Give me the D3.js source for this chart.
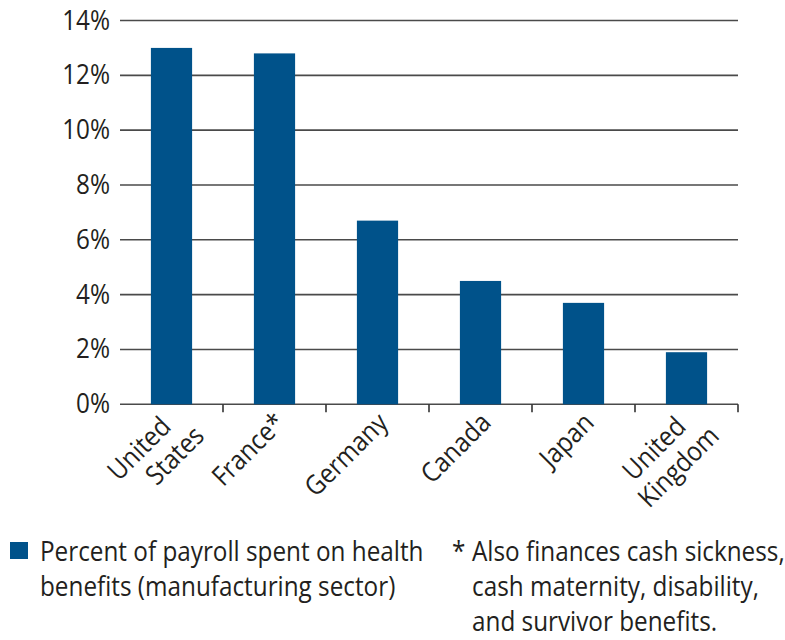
<!DOCTYPE html>
<html>
<head>
<meta charset="utf-8">
<script src="https://cdn.jsdelivr.net/npm/d3@7"></script>
<style>
  html, body { margin: 0; padding: 0; background: #fff; }
  svg { display: block; }
  text { font-family: "Open Sans", sans-serif; fill: #231f20; }
</style>
</head>
<body>
<svg id="chart" width="785" height="640"></svg>
<script>
// ---- data ----
const categories = ["United States", "France*", "Germany", "Canada", "Japan", "United Kingdom"];
const categoryLines = [["United", "States"], ["France*"], ["Germany"], ["Canada"], ["Japan"], ["United", "Kingdom"]];
const values = [13.0, 12.8, 6.7, 4.5, 3.7, 1.9];
const yTicks = [0, 2, 4, 6, 8, 10, 12, 14];
const legendLines = ["Percent of payroll spent on health", "benefits (manufacturing sector)"];
const footnoteLines = ["Also finances cash sickness,", "cash maternity, disability,", "and survivor benefits."];

(function () {
// ---- layout ----
const svg = d3.select("#chart");
const pL = 120, pR = 738, pT = 20.5, pB = 404.3;
const barColor = "#00528a";
const fs = 27;
const sx = 0.9; // horizontal condensing to mimic a narrow humanist face

const x = d3.scaleBand().domain(categories).range([pL, pR]).paddingInner(0.6).paddingOuter(0.3);
const y = d3.scaleLinear().domain([0, 14]).range([pB, pT]);

function label(parent, tx, ty, str, anchor, extra) {
  return parent.append("text")
    .attr("transform", `translate(${tx},${ty})${extra || ""} scale(${sx},1)`)
    .attr("text-anchor", anchor || "start")
    .attr("font-size", fs)
    .text(str);
}

// gridlines
svg.append("g").selectAll("line").data(yTicks).join("line")
  .attr("x1", pL).attr("x2", pR)
  .attr("y1", d => y(d)).attr("y2", d => y(d))
  .attr("stroke", "#4a4a4a").attr("stroke-width", 1.6);

// y labels
const yl = svg.append("g");
yTicks.forEach(t => label(yl, 110, y(t) + 9, t + "%", "end"));

// bars
svg.append("g").selectAll("rect").data(values).join("rect")
  .attr("x", (d, i) => x(categories[i]))
  .attr("width", x.bandwidth())
  .attr("y", d => y(d))
  .attr("height", d => y(0) - y(d))
  .attr("fill", barColor);

// x axis ticks at band boundaries
const step = x.step();
const tickXs = categories.map((c, i) => pL + step * (i + 1));
svg.append("g").selectAll("line").data(tickXs).join("line")
  .attr("x1", d => d).attr("x2", d => d)
  .attr("y1", pB).attr("y2", pB + 8)
  .attr("stroke", "#333").attr("stroke-width", 1.6);

// category labels
const lab = svg.append("g");
categories.forEach((c, i) => {
  const cx = x(c) + x.bandwidth() / 2;
  const lines = categoryLines[i];
  if (lines.length === 1) {
    label(lab, cx + 12, pB + 20, lines[0], "end", " rotate(-45)");
  } else {
    const g = lab.append("g").attr("transform", `translate(${cx + 1},${pB + 24}) rotate(-45)`);
    label(g, 0, 0, lines[0], "end");
    label(g, 17, 30, lines[1], "end");
  }
});

// legend
svg.append("rect").attr("x", 10).attr("y", 542).attr("width", 18).attr("height", 17).attr("fill", barColor);
const lg = svg.append("g");
legendLines.forEach((s, i) => label(lg, 40, 561 + i * 35, s));

// footnote
const fn = svg.append("g");
label(fn, 452, 561, "*");
footnoteLines.forEach((s, i) => label(fn, 472, 561 + i * 35, s));
})();
</script>
</body>
</html>
